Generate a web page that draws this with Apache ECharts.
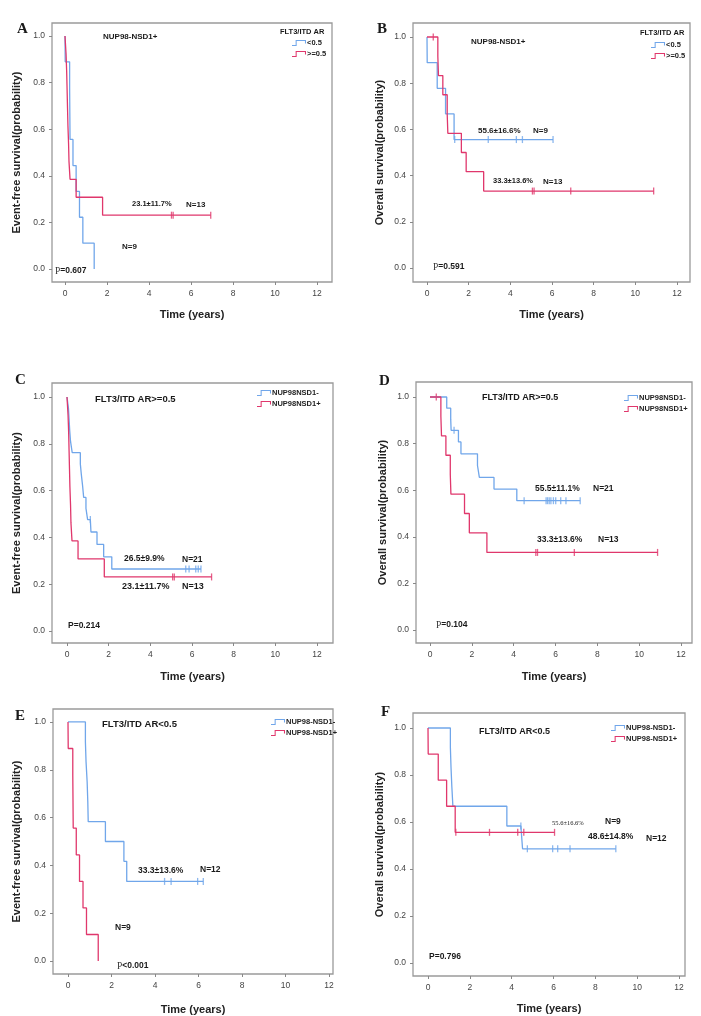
<!DOCTYPE html>
<html><head><meta charset="utf-8">
<script src="https://cdn.jsdelivr.net/npm/echarts@6/dist/echarts.min.js"></script>
<style>html,body{margin:0;padding:0;background:#fff}#c{width:701px;height:1016px}</style>
</head><body><div id="c"></div>
<script>
// ---------- tick labels ----------
const xTicks = [0, 2, 4, 6, 8, 10, 12];
const yTicks = [0, 0.2, 0.4, 0.6, 0.8, 1.0];

// ---------- Kaplan-Meier curves (step times / survival after step, censor times / survival) ----------
// EFS, NUP98-NSD1+, FLT3/ITD AR<0.5 (N=9)
const efsPosLowT = [0, 0.01, 0.22, 0.23, 0.24, 0.38, 0.53, 0.69, 0.85, 1.39];
const efsPosLowS = [1, 0.889, 0.778, 0.667, 0.556, 0.444, 0.333, 0.222, 0.111, 0];
const efsPosLowCT = [];
const efsPosLowCS = [];
// EFS, NUP98-NSD1+, FLT3/ITD AR>=0.5 (N=13)
const efsPosHighT = [0, 0.05, 0.08, 0.10, 0.12, 0.14, 0.17, 0.19, 0.24, 0.53, 1.79];
const efsPosHighS = [1, 0.923, 0.846, 0.769, 0.692, 0.615, 0.538, 0.462, 0.385, 0.308, 0.231];
const efsPosHighCT = [5.07, 5.15, 6.94];
const efsPosHighCS = [0.231, 0.231, 0.231];
// OS, NUP98-NSD1+, FLT3/ITD AR<0.5 (N=9)
const osPosLowT = [0, 0.01, 0.49, 0.89, 1.30];
const osPosLowS = [1, 0.889, 0.778, 0.667, 0.556];
const osPosLowCT = [1.33, 2.94, 4.29, 4.58, 6.05];
const osPosLowCS = [0.556, 0.556, 0.556, 0.556, 0.556];
// OS, NUP98-NSD1+, FLT3/ITD AR>=0.5 (N=13)
const osPosHighT = [0, 0.52, 0.55, 0.76, 0.97, 1.00, 1.65, 1.88, 2.72];
const osPosHighS = [1, 0.917, 0.833, 0.75, 0.667, 0.583, 0.5, 0.417, 0.333];
const osPosHighCT = [0.30, 5.06, 5.14, 6.90, 10.88];
const osPosHighCS = [1, 0.333, 0.333, 0.333, 0.333];
// EFS, NUP98-NSD1-, FLT3/ITD AR>=0.5 (N=21)
const efsNegHighT = [0, 0.07, 0.10, 0.13, 0.17, 0.25, 0.64, 0.69, 0.75, 0.80, 0.91, 0.99, 1.15, 1.44, 1.76, 2.15];
const efsNegHighS = [1, 0.952, 0.905, 0.857, 0.810, 0.762, 0.714, 0.667, 0.619, 0.571, 0.524, 0.476, 0.423, 0.370, 0.317, 0.265];
const efsNegHighCT = [1.12, 5.70, 5.86, 6.18, 6.30, 6.43];
const efsNegHighCS = [0.476, 0.265, 0.265, 0.265, 0.265, 0.265];
// OS, NUP98-NSD1-, FLT3/ITD AR>=0.5 (N=21)
const osNegHighT = [0, 0.80, 0.99, 1.01, 1.36, 1.48, 2.27, 2.36, 3.06, 4.15];
const osNegHighS = [1, 0.952, 0.905, 0.857, 0.807, 0.756, 0.706, 0.655, 0.605, 0.555];
const osNegHighCT = [1.15, 4.50, 5.55, 5.62, 5.70, 5.78, 5.90, 6.01, 6.25, 6.50, 7.18];
const osNegHighCS = [0.857, 0.555, 0.555, 0.555, 0.555, 0.555, 0.555, 0.555, 0.555, 0.555, 0.555];
// EFS, NUP98-NSD1-, FLT3/ITD AR<0.5 (N=12)
const efsNegLowT = [0, 0.80, 0.83, 0.88, 0.91, 0.93, 1.72, 2.57, 2.70];
const efsNegLowS = [1, 0.917, 0.833, 0.75, 0.667, 0.583, 0.5, 0.417, 0.333];
const efsNegLowCT = [4.44, 4.74, 5.96, 6.22];
const efsNegLowCS = [0.333, 0.333, 0.333, 0.333];
// OS, NUP98-NSD1-, FLT3/ITD AR<0.5 (N=12)
const osNegLowT = [0, 1.07, 1.10, 1.14, 1.19, 3.77, 4.52];
const osNegLowS = [1, 0.917, 0.833, 0.75, 0.667, 0.583, 0.486];
const osNegLowCT = [4.44, 4.75, 5.96, 6.20, 6.79, 8.98];
const osNegLowCS = [0.583, 0.486, 0.486, 0.486, 0.486, 0.486];

const curves = {
  efsPosLow: [efsPosLowT, efsPosLowS, efsPosLowCT, efsPosLowCS],
  efsPosHigh: [efsPosHighT, efsPosHighS, efsPosHighCT, efsPosHighCS],
  osPosLow: [osPosLowT, osPosLowS, osPosLowCT, osPosLowCS],
  osPosHigh: [osPosHighT, osPosHighS, osPosHighCT, osPosHighCS],
  efsNegHigh: [efsNegHighT, efsNegHighS, efsNegHighCT, efsNegHighCS],
  osNegHigh: [osNegHighT, osNegHighS, osNegHighCT, osNegHighCS],
  efsNegLow: [efsNegLowT, efsNegLowS, efsNegLowCT, efsNegLowCS],
  osNegLow: [osNegLowT, osNegLowS, osNegLowCT, osNegLowCS]
};

// ---------- styling / layout ----------
const BLUE = '#70a6ea';
const RED = '#e0376c';
const SANS = '"Liberation Sans", Arial, sans-serif';
const SERIF = '"Liberation Serif", "Times New Roman", serif';
const STEP_ICON = 'path://M0,6.5 L4.5,6.5 L4.5,1.5 L12.5,1.5 L12.5,4 L13.5,4 L13.5,0.5 L3.5,0.5 L3.5,5.5 L0,5.5 Z';
const EFS = 'Event-free survival(probability)';
const OS = 'Overall survival(probability)';

const panels = [
  {frame: [52, 23, 332, 282], x0: 65, x12: 317, y1: 36, y0: 269, yName: EFS, yGap: 30, xGap: 27,
   lines: [['<0.5', BLUE, 'efsPosLow'], ['>=0.5', RED, 'efsPosHigh']], legend: [292, 39]},
  {frame: [413, 23, 690, 282], x0: 427, x12: 677, y1: 37, y0: 268, yName: OS, yGap: 28, xGap: 27,
   lines: [['<0.5', BLUE, 'osPosLow'], ['>=0.5', RED, 'osPosHigh']], legend: [651, 41]},
  {frame: [52, 383, 333, 643], x0: 67, x12: 317, y1: 397, y0: 631, yName: EFS, yGap: 30, xGap: 28,
   lines: [['NUP98NSD1-', BLUE, 'efsNegHigh'], ['NUP98NSD1+', RED, 'efsPosHigh']], legend: [257, 389]},
  {frame: [416, 382, 692, 643], x0: 430, x12: 681, y1: 397, y0: 630, yName: OS, yGap: 28, xGap: 28,
   lines: [['NUP98NSD1-', BLUE, 'osNegHigh'], ['NUP98NSD1+', RED, 'osPosHigh']], legend: [624, 394]},
  {frame: [53, 709, 333, 975], x0: 68, x12: 329, y1: 722, y0: 962, yName: EFS, yGap: 31, xGap: 30,
   lines: [['NUP98-NSD1-', BLUE, 'efsNegLow'], ['NUP98-NSD1+', RED, 'efsPosLow']], legend: [271, 718]},
  {frame: [413, 713, 685, 976], x0: 428, x12: 679, y1: 728, y0: 963, yName: OS, yGap: 28, xGap: 27,
   lines: [['NUP98-NSD1-', BLUE, 'osNegLow'], ['NUP98-NSD1+', RED, 'osPosLow']], legend: [611, 724]}
];

// ---------- annotation texts [text, x, y(center), font size, style] ----------
const notes = [
  ['A', 17, 29, 15, 'letter'], ['B', 377, 29, 15, 'letter'], ['C', 15, 380, 15, 'letter'],
  ['D', 379, 381, 15, 'letter'], ['E', 15, 716, 15, 'letter'], ['F', 381, 712, 15, 'letter'],
  ['NUP98-NSD1+', 103, 37, 8, 'b'], ['FLT3/ITD AR', 280, 32, 7.5, 'b'],
  ['23.1±11.7%', 132, 204, 7.5, 'b'], ['N=13', 186, 205, 8, 'b'], ['N=9', 122, 247, 8, 'b'],
  ['NUP98-NSD1+', 471, 42, 8, 'b'], ['FLT3/ITD AR', 640, 33, 7.5, 'b'],
  ['55.6±16.6%', 478, 131, 8, 'b'], ['N=9', 533, 131, 8, 'b'],
  ['33.3±13.6%', 493, 181, 7.5, 'b'], ['N=13', 543, 182, 8, 'b'],
  ['FLT3/ITD AR>=0.5', 95, 399, 9.5, 'b'], ['26.5±9.9%', 124, 559, 8.5, 'b'], ['N=21', 182, 560, 8.5, 'b'],
  ['23.1±11.7%', 122, 587, 9, 'b'], ['N=13', 182, 587, 9, 'b'],
  ['FLT3/ITD AR>=0.5', 482, 398, 9, 'b'], ['55.5±11.1%', 535, 489, 8.5, 'b'], ['N=21', 593, 489, 8.5, 'b'],
  ['33.3±13.6%', 537, 540, 8.5, 'b'], ['N=13', 598, 540, 8.5, 'b'],
  ['FLT3/ITD AR<0.5', 102, 724, 9.5, 'b'], ['33.3±13.6%', 138, 871, 8.5, 'b'], ['N=12', 200, 870, 8.5, 'b'],
  ['N=9', 115, 928, 8.5, 'b'],
  ['FLT3/ITD AR<0.5', 479, 732, 9, 'b'], ['55.6±16.6%', 552, 823, 6.5, 'serif'], ['N=9', 605, 822, 8.5, 'b'],
  ['48.6±14.8%', 588, 837, 8.5, 'b'], ['N=12', 646, 839, 8.5, 'b']
];
// p-values [serif prefix, bold rest, x, y]
const pvals = [
  ['P', '=0.607', 55, 271], ['P', '=0.591', 433, 267], ['', 'P=0.214', 68, 626],
  ['P', '=0.104', 436, 625], ['P', '<0.001', 117, 966], ['', 'P=0.796', 429, 957]
];

// ---------- build option ----------
function mergePts(c) {
  const [T, S, CT, CS] = c;
  const pts = T.map((t, i) => [t, S[i]]);
  CT.forEach((t, i) => pts.push([t, CS[i]]));
  pts.sort((a, b) => a[0] - b[0]);
  return pts;
}

const grid = [], xAxis = [], yAxis = [], series = [], legend = [], graphic = [];
panels.forEach((p, i) => {
  const [L, T, R, B] = p.frame;
  const ppx = (p.x12 - p.x0) / 12, ppy = (p.y0 - p.y1);
  grid.push({left: L, top: T, width: R - L, height: B - T, show: true, borderColor: '#9a9a9a', borderWidth: 1.3, backgroundColor: 'transparent'});
  xAxis.push({
    type: 'value', gridIndex: i, position: 'bottom',
    min: -(p.x0 - L) / ppx, max: 12 + (R - p.x12) / ppx,
    axisLine: {show: false, onZero: false}, splitLine: {show: false},
    axisTick: {show: true, inside: false, customValues: xTicks, length: 3, lineStyle: {color: '#888'}},
    axisLabel: {customValues: xTicks, fontSize: 8.5, color: '#444', margin: 7, fontFamily: SANS},
    name: 'Time (years)', nameLocation: 'middle', nameGap: p.xGap,
    nameTextStyle: {fontSize: 11, fontWeight: 'bold', color: '#222', fontFamily: SANS}
  });
  yAxis.push({
    type: 'value', gridIndex: i, position: 'left',
    min: -(B - p.y0) / ppy, max: 1 + (p.y1 - T) / ppy,
    axisLine: {show: false, onZero: false}, splitLine: {show: false},
    axisTick: {show: true, inside: false, customValues: yTicks, length: 3, lineStyle: {color: '#888'}},
    axisLabel: {customValues: yTicks, fontSize: 8.5, color: '#444', margin: 7, fontFamily: SANS,
      formatter: v => v.toFixed(1)},
    name: p.yName, nameLocation: 'middle', nameGap: p.yGap,
    nameTextStyle: {fontSize: 11, fontWeight: 'bold', color: '#222', fontFamily: SANS}
  });
  p.lines.forEach(([name, color, key]) => {
    const c = curves[key];
    series.push({
      name, type: 'line', step: 'end', xAxisIndex: i, yAxisIndex: i,
      data: mergePts(c), showSymbol: false, silent: true, animation: false,
      lineStyle: {color, width: 1.3}, itemStyle: {color}
    });
    series.push({
      name: name + ' censored', type: 'scatter', xAxisIndex: i, yAxisIndex: i,
      data: c[2].map((t, k) => [t, c[3][k]]), symbol: 'rect', symbolSize: [1.3, 7],
      itemStyle: {color}, silent: true, animation: false
    });
  });
  legend.push({
    data: p.lines.map(l => l[0]), orient: 'vertical', left: p.legend[0], top: p.legend[1],
    itemWidth: 14, itemHeight: 7, itemGap: 3, padding: 0, icon: STEP_ICON, selectedMode: false,
    textStyle: {fontSize: 7.5, fontWeight: 'bold', color: '#222', fontFamily: SANS, padding: [0, 0, 0, -4]}
  });
});

notes.forEach(([text, x, y, size, kind]) => {
  let fam = SANS, weight = 'bold';
  if (kind === 'letter') fam = SERIF;
  if (kind === 'serif') { fam = SERIF; weight = 'normal'; }
  graphic.push({type: 'text', x, y, silent: true,
    style: {text, fill: '#1a1a1a', fontSize: size, fontWeight: weight, fontFamily: fam, verticalAlign: 'middle', align: 'left'}});
});
pvals.forEach(([pre, rest, x, y]) => {
  graphic.push({type: 'text', x, y, silent: true,
    style: {text: (pre ? '{s|' + pre + '}' : '') + '{b|' + rest + '}', verticalAlign: 'middle', align: 'left',
      rich: {s: {fontFamily: SERIF, fontSize: 9.5, fill: '#333', fontWeight: 'normal'},
             b: {fontFamily: SANS, fontSize: 8.5, fontWeight: 'bold', fill: '#1a1a1a'}}}});
});

const chart = echarts.init(document.getElementById('c'), null, {renderer: 'canvas'});
chart.setOption({backgroundColor: '#fff', animation: false, grid, xAxis, yAxis, series, legend, graphic});
</script></body></html>
